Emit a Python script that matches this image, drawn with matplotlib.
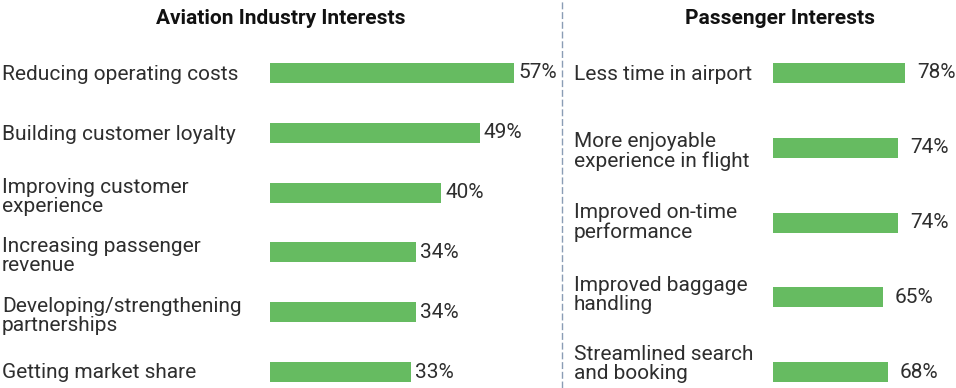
import matplotlib.pyplot as plt
from matplotlib.lines import Line2D

# data
industry_labels = ['Reducing operating costs', 'Building customer loyalty',
                   'Improving customer\nexperience', 'Increasing passenger\nrevenue',
                   'Developing/strengthening\npartnerships', 'Getting market share']
industry_values = [57, 49, 40, 34, 34, 33]

passenger_labels = ['Less time in airport', 'More enjoyable\nexperience in flight',
                    'Improved on-time\nperformance', 'Improved baggage\nhandling',
                    'Streamlined search\nand booking']
passenger_values = [78, 74, 74, 65, 68]

green = '#66bb61'
txt = '#2e2e2e'
plt.rcParams['font.family'] = ['Roboto', 'DejaVu Sans']

W, H = 956, 388
fig = plt.figure(figsize=(W / 100, H / 100), dpi=100)


def px_axes(x0, x1, y_top, y_bot):
    # axes from pixel box (y measured from top)
    return fig.add_axes([x0 / W, 1 - y_bot / H, (x1 - x0) / W, (y_bot - y_top) / H])


def panel(ax, labels, values, x_start, x_left, x_right, scale, y_first, step,
          label_x, pad, title, title_x, nudges):
    n = len(values)
    ax.set_xlim(-(x_start - x_left) / scale, (x_right - x_start) / scale)
    ax.set_ylim((H - y_first) / step, -(y_first - 43) / step)
    ys = list(range(n))
    ax.barh(ys, values, height=20 / step, color=green)
    tr = ax.get_yaxis_transform()
    lx = (label_x - x_left) / (x_right - x_left)
    for y, lab, v, dy in zip(ys, labels, values, nudges):
        ax.annotate(lab, (lx, y), xycoords=tr, xytext=(0, -dy), textcoords='offset pixels',
                    ha='left', va='center', fontsize=15, color=txt, linespacing=1.0)
        ax.annotate(f'{v}%', (v, y), xytext=(pad, 0), textcoords='offset pixels',
                    ha='left', va='center', fontsize=15, color=txt)
    ax.axis('off')
    fig.text(title_x / W, 1 - 18 / H, title, ha='center', va='center',
             fontsize=15, fontweight='bold', color='#111111')


ax1 = px_axes(0, 562, 43, H)
panel(ax1, industry_labels, industry_values, x_start=270, x_left=0, x_right=562,
      scale=4.28, y_first=73, step=59.8, label_x=2, pad=4,
      title='Aviation Industry Interests', title_x=281,
      nudges=[2, 2, 4, 4, 4, 1])

ax2 = px_axes(562, W, 43, H)
panel(ax2, passenger_labels, passenger_values, x_start=773, x_left=562, x_right=W,
      scale=1.69, y_first=73, step=74.75, label_x=574, pad=12,
      title='Passenger Interests', title_x=780,
      nudges=[1, 4, 0, -2, -8])

fig.add_artist(Line2D([562 / W, 562 / W], [0, 1], transform=fig.transFigure,
                      color='#8a9db5', lw=1, linestyle=(0, (5, 2))))

fig.savefig('out.png', dpi=100)
